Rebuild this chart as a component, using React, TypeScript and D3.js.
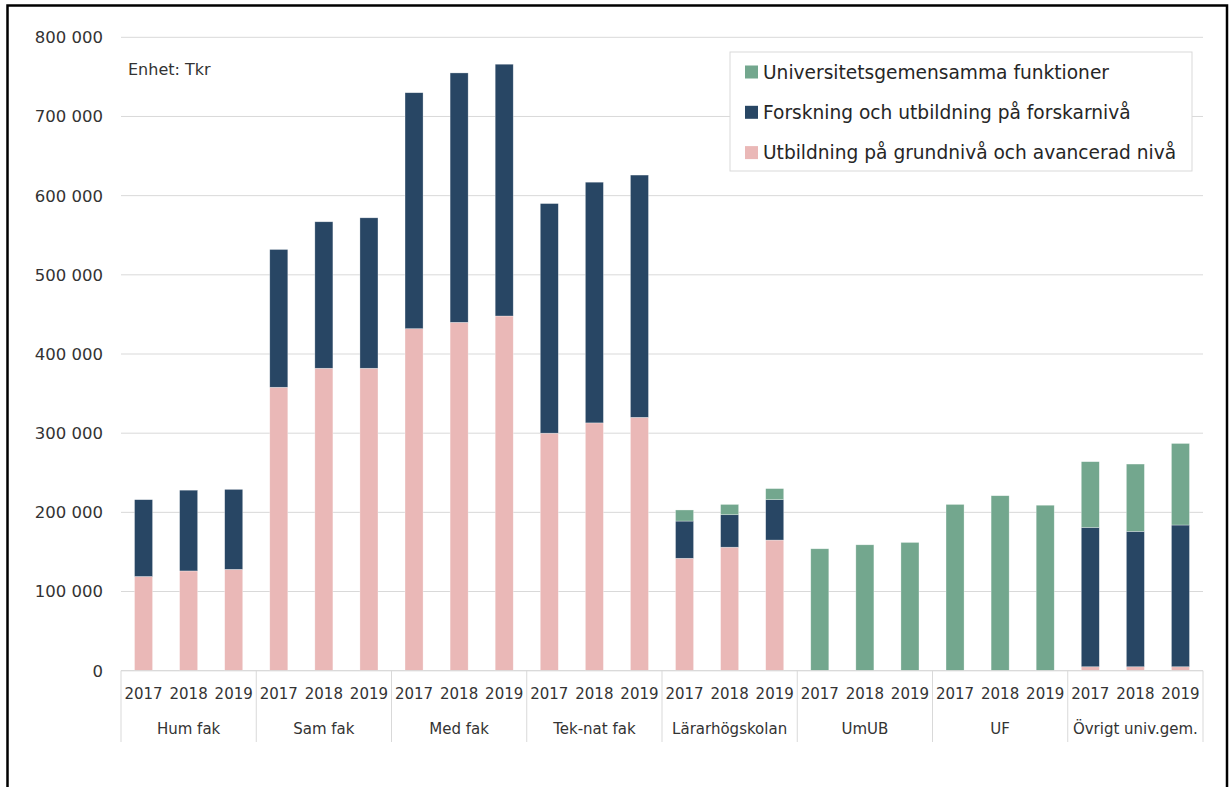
import React from "react";
import * as d3 from "d3";

const groups = ["Hum fak", "Sam fak", "Med fak", "Tek-nat fak", "Lärarhögskolan", "UmUB", "UF", "Övrigt univ.gem."];
const years = ["2017", "2018", "2019"];

// Tkr, one value per group × year (2017, 2018, 2019)
const utbildning = [119000, 126000, 128000, 358000, 382000, 382000, 432000, 440000, 448000, 300000, 313000, 320000, 142000, 156000, 165000, 0, 0, 0, 0, 0, 0, 5000, 5000, 5000];
const forskning = [97000, 102000, 101000, 174000, 185000, 190000, 298000, 315000, 318000, 290000, 304000, 306000, 47000, 41000, 51000, 0, 0, 0, 0, 0, 0, 176000, 171000, 179000];
const univGem = [0, 0, 0, 0, 0, 0, 0, 0, 0, 0, 0, 0, 14000, 13000, 14000, 154000, 159000, 162000, 210000, 221000, 209000, 83000, 85000, 103000];

const yTicks = [0, 100000, 200000, 300000, 400000, 500000, 600000, 700000, 800000];

const seriesNames = ["Universitetsgemensamma funktioner", "Forskning och utbildning på forskarnivå", "Utbildning på grundnivå och avancerad nivå"];
const seriesColors = ["#73a78e", "#284664", "#eab8b7"];

const FONT = "'DejaVu Sans', sans-serif";

export default function App() {
  const W = 1232, H = 787;
  const x0 = 121, x1 = 1203;
  const yBase = 670.7, yTop = 37.3;

  const rows = groups.flatMap((g, gi) =>
    years.map((yr, yi) => {
      const i = gi * 3 + yi;
      return { key: g + "|" + yr, group: g, year: yr, utb: utbildning[i], fou: forskning[i], gem: univGem[i] };
    })
  );

  const xGroup = d3.scaleBand<string>().domain(groups).range([x0, x1]).padding(0);
  const xInner = d3.scaleBand<string>().domain(years).range([0, xGroup.bandwidth()]).paddingInner(0.6).paddingOuter(0.3);
  const y = d3.scaleLinear().domain([0, 800000]).range([yBase, yTop]);

  const stack = d3.stack<any>().keys(["utb", "fou", "gem"]);
  const stacked = stack(rows);
  const colorByKey: Record<string, string> = { utb: seriesColors[2], fou: seriesColors[1], gem: seriesColors[0] };

  const fmt = d3.formatLocale({ decimal: ",", thousands: " ", grouping: [3], currency: ["", ""] }).format(",");

  const legendX = 730, legendY = 52, legendW = 462, legendH = 119;

  return (
    <svg width={W} height={H} style={{ position: "absolute", left: 0, top: 0, background: "#fff" }}>
      <rect x={0} y={0} width={W} height={H} fill="#fff" />
      {yTicks.map((t) => (
        <line key={"g" + t} x1={x0} x2={x1} y1={y(t)} y2={y(t)} stroke="#d9d9d9" strokeWidth={1} />
      ))}
      {yTicks.map((t) => (
        <text key={"yl" + t} x={103} y={y(t)} dy="0.36em" textAnchor="end" fontFamily={FONT} fontSize={16.5} fill="#333">
          {fmt(t)}
        </text>
      ))}
      {stacked.map((layer) =>
        layer.map((d: any, i: number) => {
          const r = rows[i];
          const h = y(d[0]) - y(d[1]);
          if (h <= 0) return null;
          return (
            <rect
              key={layer.key + r.key}
              x={(xGroup(r.group) as number) + (xInner(r.year) as number)}
              y={y(d[1])}
              width={xInner.bandwidth()}
              height={h}
              fill={colorByKey[layer.key as string]}
              stroke="#ffffff"
              strokeOpacity={0.5}
              strokeWidth={0.6}
            />
          );
        })
      )}
      <line x1={x0} x2={x1} y1={yBase} y2={yBase} stroke="#d9d9d9" strokeWidth={1} />
      {[...groups.map((g) => xGroup(g) as number), x1].map((xx, i) => (
        <line key={"sep" + i} x1={xx} x2={xx} y1={yBase} y2={742} stroke="#d9d9d9" strokeWidth={1} />
      ))}
      {rows.map((r) => (
        <text
          key={"yr" + r.key}
          x={(xGroup(r.group) as number) + (xInner(r.year) as number) + xInner.bandwidth() / 2}
          y={694}
          dy="0.36em"
          textAnchor="middle"
          fontFamily={FONT}
          fontSize={15}
          fill="#333"
        >
          {r.year}
        </text>
      ))}
      {groups.map((g) => (
        <text
          key={"gl" + g}
          x={(xGroup(g) as number) + xGroup.bandwidth() / 2}
          y={729}
          dy="0.36em"
          textAnchor="middle"
          fontFamily={FONT}
          fontSize={15}
          fill="#333"
        >
          {g}
        </text>
      ))}
      <text x={128} y={69} dy="0.36em" fontFamily={FONT} fontSize={16} fill="#333">
        Enhet: Tkr
      </text>
      <rect x={legendX} y={legendY} width={legendW} height={legendH} fill="#fff" stroke="#d9d9d9" strokeWidth={1} />
      {seriesNames.map((n, i) => {
        const cy = 72 + i * 40.3;
        return (
          <g key={"lg" + i}>
            <rect x={745} y={cy - 6.5} width={13} height={13} fill={seriesColors[i]} />
            <text x={763} y={cy} dy="0.36em" fontFamily={FONT} fontSize={18.6} fill="#262626">
              {n}
            </text>
          </g>
        );
      })}
      <rect x={7.5} y={5.5} width={1219.5} height={800} fill="none" stroke="#000" strokeWidth={2.5} />
    </svg>
  );
}
